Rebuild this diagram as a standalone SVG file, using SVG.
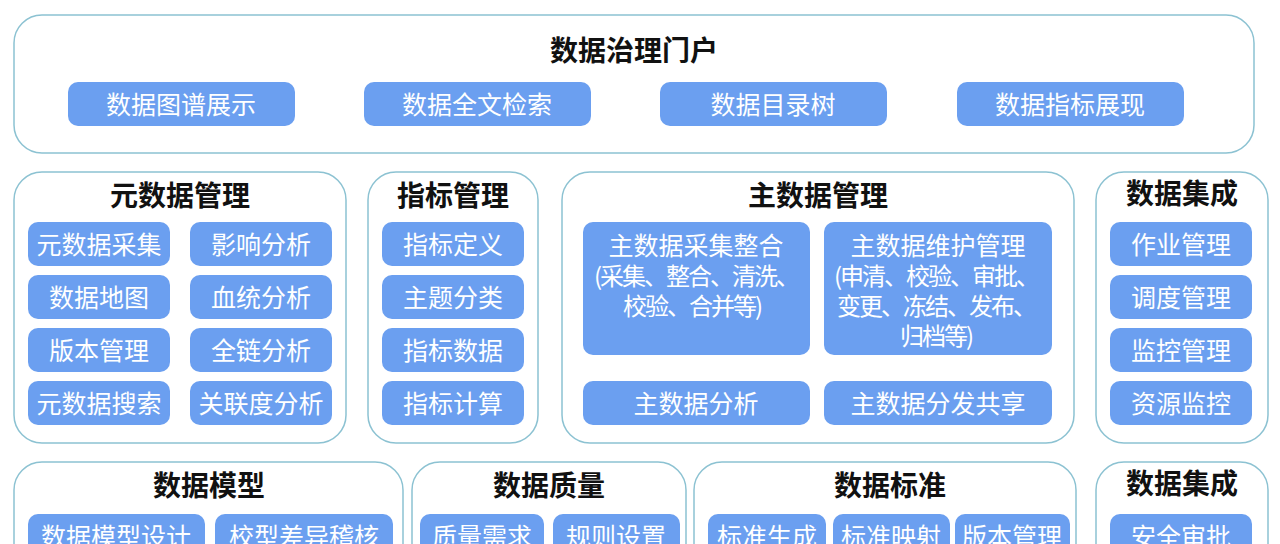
<svg xmlns="http://www.w3.org/2000/svg" width="1280" height="544" viewBox="0 0 1280 544">
<style>
.panel{fill:#ffffff;stroke:#8cc2d2;stroke-width:1.5}
.btn{fill:#6b9ff0}
.t{font-family:"Noto Sans CJK SC","Noto Sans",sans-serif;font-size:28px;font-weight:700;fill:#111;text-anchor:middle;dominant-baseline:central}
.b{font-family:"Noto Sans CJK SC","Noto Sans",sans-serif;font-size:25px;fill:#ffffff;text-anchor:middle;dominant-baseline:central}
.s{font-size:24px;letter-spacing:-2px}
</style>
<rect x="0" y="0" width="1280" height="544" fill="#ffffff"/>
<g id="portal">
<rect class="panel" x="14" y="15" width="1240" height="138" rx="28"/>
<text class="t" x="634" y="49">数据治理门户</text>
<rect class="btn" x="68" y="82" width="227" height="44" rx="10"/><text class="b" x="181" y="103">数据图谱展示</text>
<rect class="btn" x="364" y="82" width="227" height="44" rx="10"/><text class="b" x="477" y="103">数据全文检索</text>
<rect class="btn" x="660" y="82" width="227" height="44" rx="10"/><text class="b" x="773" y="103">数据目录树</text>
<rect class="btn" x="957" y="82" width="227" height="44" rx="10"/><text class="b" x="1070" y="103">数据指标展现</text>
</g>
<g id="metadata">
<rect class="panel" x="14" y="172" width="332" height="271" rx="28"/>
<text class="t" x="180" y="194">元数据管理</text>
<rect class="btn" x="28" y="222" width="142" height="44" rx="10"/><text class="b" x="99" y="243">元数据采集</text>
<rect class="btn" x="190" y="222" width="142" height="44" rx="10"/><text class="b" x="261" y="243">影响分析</text>
<rect class="btn" x="28" y="275" width="142" height="44" rx="10"/><text class="b" x="99" y="296">数据地图</text>
<rect class="btn" x="190" y="275" width="142" height="44" rx="10"/><text class="b" x="261" y="296">血统分析</text>
<rect class="btn" x="28" y="328" width="142" height="44" rx="10"/><text class="b" x="99" y="349">版本管理</text>
<rect class="btn" x="190" y="328" width="142" height="44" rx="10"/><text class="b" x="261" y="349">全链分析</text>
<rect class="btn" x="28" y="381" width="142" height="44" rx="10"/><text class="b" x="99" y="402">元数据搜索</text>
<rect class="btn" x="190" y="381" width="142" height="44" rx="10"/><text class="b" x="261" y="402">关联度分析</text>
</g>
<g id="indicator">
<rect class="panel" x="368" y="172" width="170" height="271" rx="28"/>
<text class="t" x="453" y="194">指标管理</text>
<rect class="btn" x="382" y="222" width="142" height="44" rx="10"/><text class="b" x="453" y="243">指标定义</text>
<rect class="btn" x="382" y="275" width="142" height="44" rx="10"/><text class="b" x="453" y="296">主题分类</text>
<rect class="btn" x="382" y="328" width="142" height="44" rx="10"/><text class="b" x="453" y="349">指标数据</text>
<rect class="btn" x="382" y="381" width="142" height="44" rx="10"/><text class="b" x="453" y="402">指标计算</text>
</g>
<g id="masterdata">
<rect class="panel" x="562" y="172" width="512" height="271" rx="28"/>
<text class="t" x="818" y="194">主数据管理</text>
<rect class="btn" x="583" y="222" width="227" height="133" rx="10"/>
<text class="b" x="696" y="244">主数据采集整合</text>
<text class="b s" x="696" y="274">(采集、整合、清洗、</text>
<text class="b s" x="692" y="304">校验、合并等)</text>
<rect class="btn" x="824" y="222" width="228" height="133" rx="10"/>
<text class="b" x="938" y="244">主数据维护管理</text>
<text class="b s" x="936" y="274">(申清、校验、审批、</text>
<text class="b s" x="936" y="304">变更、冻结、发布、</text>
<text class="b s" x="936" y="334">归档等)</text>
<rect class="btn" x="583" y="381" width="227" height="44" rx="10"/><text class="b" x="696" y="402">主数据分析</text>
<rect class="btn" x="824" y="381" width="228" height="44" rx="10"/><text class="b" x="938" y="402">主数据分发共享</text>
</g>
<g id="integration1">
<rect class="panel" x="1096" y="172" width="172" height="271" rx="28"/>
<text class="t" x="1182" y="192">数据集成</text>
<rect class="btn" x="1110" y="222" width="142" height="44" rx="10"/><text class="b" x="1181" y="243">作业管理</text>
<rect class="btn" x="1110" y="275" width="142" height="44" rx="10"/><text class="b" x="1181" y="296">调度管理</text>
<rect class="btn" x="1110" y="328" width="142" height="44" rx="10"/><text class="b" x="1181" y="349">监控管理</text>
<rect class="btn" x="1110" y="381" width="142" height="44" rx="10"/><text class="b" x="1181" y="402">资源监控</text>
</g>
<g id="datamodel">
<rect class="panel" x="14" y="462" width="389" height="120" rx="28"/>
<text class="t" x="209" y="484">数据模型</text>
<rect class="btn" x="28" y="514" width="177" height="44" rx="10"/><text class="b" x="116" y="535">数据模型设计</text>
<rect class="btn" x="215" y="514" width="178" height="44" rx="10"/><text class="b" x="304" y="535">校型差异稽核</text>
</g>
<g id="quality">
<rect class="panel" x="412" y="462" width="274" height="120" rx="28"/>
<text class="t" x="549" y="484">数据质量</text>
<rect class="btn" x="420" y="514" width="124" height="44" rx="10"/><text class="b" x="482" y="535">质量需求</text>
<rect class="btn" x="553" y="514" width="127" height="44" rx="10"/><text class="b" x="616" y="535">规则设置</text>
</g>
<g id="standard">
<rect class="panel" x="694" y="462" width="382" height="120" rx="28"/>
<text class="t" x="890" y="484">数据标准</text>
<rect class="btn" x="708" y="514" width="118" height="44" rx="10"/><text class="b" x="767" y="535">标准生成</text>
<rect class="btn" x="833" y="514" width="117" height="44" rx="10"/><text class="b" x="891" y="535">标准映射</text>
<rect class="btn" x="955" y="514" width="115" height="44" rx="10"/><text class="b" x="1012" y="535">版本管理</text>
</g>
<g id="integration2">
<rect class="panel" x="1096" y="462" width="172" height="120" rx="28"/>
<text class="t" x="1182" y="482">数据集成</text>
<rect class="btn" x="1110" y="514" width="142" height="44" rx="10"/><text class="b" x="1181" y="535">安全审批</text>
</g>
<g id="connectors"/>
</svg>
